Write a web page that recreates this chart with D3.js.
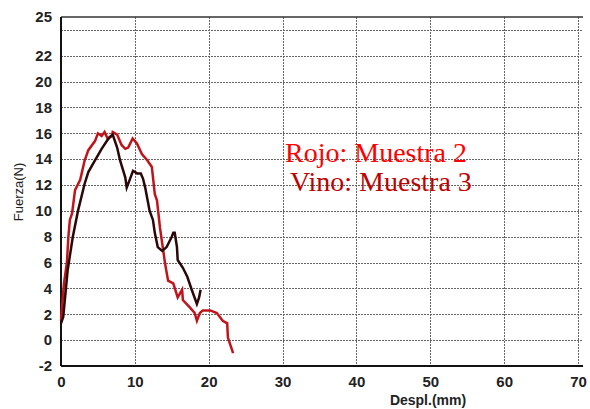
<!DOCTYPE html>
<meta charset="utf-8">
<style>
  body { margin: 0; background: #fff; }
  .tick text { font-family: Arial, "Liberation Sans", sans-serif; font-weight: bold; font-size: 15px; fill: #222; }
</style>
<body>
<div id="chart"></div>
<script src="https://d3js.org/d3.v7.min.js"></script>
<script>
// Rojo: Muestra 2 (mm, N)
var rojoX = [0, 0.2, 0.4, 0.8, 1.0, 1.2, 1.5, 1.9, 2.6, 3.2, 3.7, 4.6, 5.0, 5.5, 5.9, 6.3, 6.9, 7.0, 7.6, 8.2, 8.7, 9.1, 9.7, 10.3, 10.95, 11.7, 12.3, 12.7, 13.0, 13.4, 14.1, 14.5, 15.2, 15.8, 16.4, 16.5, 17.5, 18.1, 18.4, 18.8, 19.2, 20.2, 21.1, 21.9, 22.5, 22.6, 23.3];
var rojoY = [1.5, 3.0, 4.4, 6.0, 8.0, 9.3, 9.8, 11.6, 12.4, 13.9, 14.7, 15.4, 16.0, 15.8, 16.1, 15.6, 15.8, 16.1, 15.9, 15.1, 14.8, 14.9, 15.6, 15.2, 14.4, 13.9, 13.4, 11.3, 10.8, 8.7, 5.9, 4.6, 4.4, 3.3, 3.9, 3.1, 2.5, 2.1, 1.5, 2.1, 2.3, 2.3, 2.1, 1.5, 1.3, 0.2, -1.0];

// Vino: Muestra 3 (mm, N)
var vinoX = [0, 0.3, 0.9, 1.6, 2.3, 3.2, 3.7, 4.6, 5.5, 6.2, 6.6, 7.0, 7.6, 8.0, 8.7, 8.9, 9.3, 9.75, 10.3, 10.8, 11.1, 11.4, 12.0, 12.45, 12.7, 13.1, 13.7, 14.3, 15.0, 15.2, 15.4, 15.7, 15.8, 16.5, 17.1, 17.7, 18.4, 18.7, 18.9];
var vinoY = [1.3, 1.8, 5.4, 8.0, 10.0, 12.1, 13.0, 13.9, 14.8, 15.4, 15.7, 15.9, 14.9, 13.9, 12.6, 11.8, 12.4, 13.1, 12.9, 12.9, 12.5, 11.8, 10.0, 9.3, 8.3, 7.2, 6.9, 7.2, 8.0, 8.3, 8.3, 7.2, 6.2, 5.6, 4.9, 3.9, 2.8, 3.3, 3.9];

var xTicks = [0, 10, 20, 30, 40, 50, 60, 70];
var yTicks = [-2, 0, 2, 4, 6, 8, 10, 12, 14, 16, 18, 20, 22, 25];
var yGrid = [0, 2, 4, 6, 8, 10, 12, 14, 16, 18, 20, 22, 24];
var legendLabels = ["Rojo: Muestra 2", "Vino: Muestra 3"];

var width = 590, height = 409;
var plotLeft = 61, plotRight = 583, plotTop = 17, plotBottom = 366;

var x = d3.scaleLinear().domain([0, 70]).range([plotLeft, 578]);
var y = d3.scaleLinear().domain([-2, 25]).range([plotBottom, plotTop]);

var svg = d3.select("#chart").append("svg")
    .attr("width", width)
    .attr("height", height);

// grid (dotted)
svg.append("g").selectAll("line")
    .data(yGrid)
    .enter().append("line")
    .attr("x1", plotLeft).attr("x2", plotRight)
    .attr("y1", function(d) { return Math.round(y(d)) + 0.5; })
    .attr("y2", function(d) { return Math.round(y(d)) + 0.5; })
    .attr("stroke", "#666")
    .attr("stroke-width", 1)
    .attr("stroke-dasharray", "2,1");

svg.append("g").selectAll("line")
    .data(xTicks.slice(1))
    .enter().append("line")
    .attr("x1", function(d) { return Math.round(x(d)) + 0.5; })
    .attr("x2", function(d) { return Math.round(x(d)) + 0.5; })
    .attr("y1", plotTop).attr("y2", plotBottom)
    .attr("stroke", "#666")
    .attr("stroke-width", 1)
    .attr("stroke-dasharray", "2,1");

// frame
svg.append("line").attr("x1", plotLeft).attr("x2", plotRight).attr("y1", plotTop).attr("y2", plotTop)
    .attr("stroke", "#333").attr("stroke-width", 1.5);
svg.append("line").attr("x1", plotLeft).attr("x2", plotRight).attr("y1", plotBottom).attr("y2", plotBottom)
    .attr("stroke", "#111").attr("stroke-width", 2);
svg.append("line").attr("x1", plotLeft).attr("x2", plotLeft).attr("y1", plotTop).attr("y2", plotBottom)
    .attr("stroke", "#111").attr("stroke-width", 2);

// axes
var xAxis = d3.axisBottom(x).tickValues(xTicks).tickSize(0).tickPadding(10).tickFormat(String);
svg.append("g").attr("transform", "translate(0," + plotBottom + ")").call(xAxis)
    .call(function(g) { g.select(".domain").remove(); });

var yAxis = d3.axisLeft(y).tickValues(yTicks).tickSize(0).tickPadding(9).tickFormat(String);
svg.append("g").attr("transform", "translate(" + plotLeft + ",0)").call(yAxis)
    .call(function(g) { g.select(".domain").remove(); });

// axis titles
svg.append("text")
    .attr("transform", "translate(23,192) rotate(-90)")
    .attr("text-anchor", "middle")
    .attr("font-family", "Arial, 'Liberation Sans', sans-serif")
    .attr("font-size", 13)
    .attr("fill", "#222")
    .text("Fuerza(N)");

svg.append("text")
    .attr("x", 428).attr("y", 405)
    .attr("text-anchor", "middle")
    .attr("font-family", "Arial, 'Liberation Sans', sans-serif")
    .attr("font-weight", "bold")
    .attr("font-size", 14)
    .attr("fill", "#222")
    .text("Despl.(mm)");

// curves
var line = d3.line()
    .x(function(d) { return x(d[0]); })
    .y(function(d) { return y(d[1]); });

svg.append("path")
    .datum(d3.zip(rojoX, rojoY))
    .attr("d", line)
    .attr("fill", "none")
    .attr("stroke", "#c0141a")
    .attr("stroke-width", 2.5);

svg.append("path")
    .datum(d3.zip(vinoX, vinoY))
    .attr("d", line)
    .attr("fill", "none")
    .attr("stroke", "#2a0808")
    .attr("stroke-width", 2.5);

// legend text
svg.append("g").selectAll("text")
    .data(legendLabels)
    .enter().append("text")
    .attr("x", function(d, i) { return i === 0 ? 285 : 290; })
    .attr("y", function(d, i) { return 162 + i * 29; })
    .attr("font-family", "'Liberation Serif', 'Times New Roman', serif")
    .attr("font-size", 28)
    .attr("fill", function(d, i) { return i === 0 ? "#ff0000" : "#c00000"; })
    .text(function(d) { return d; });
</script>
</body>
